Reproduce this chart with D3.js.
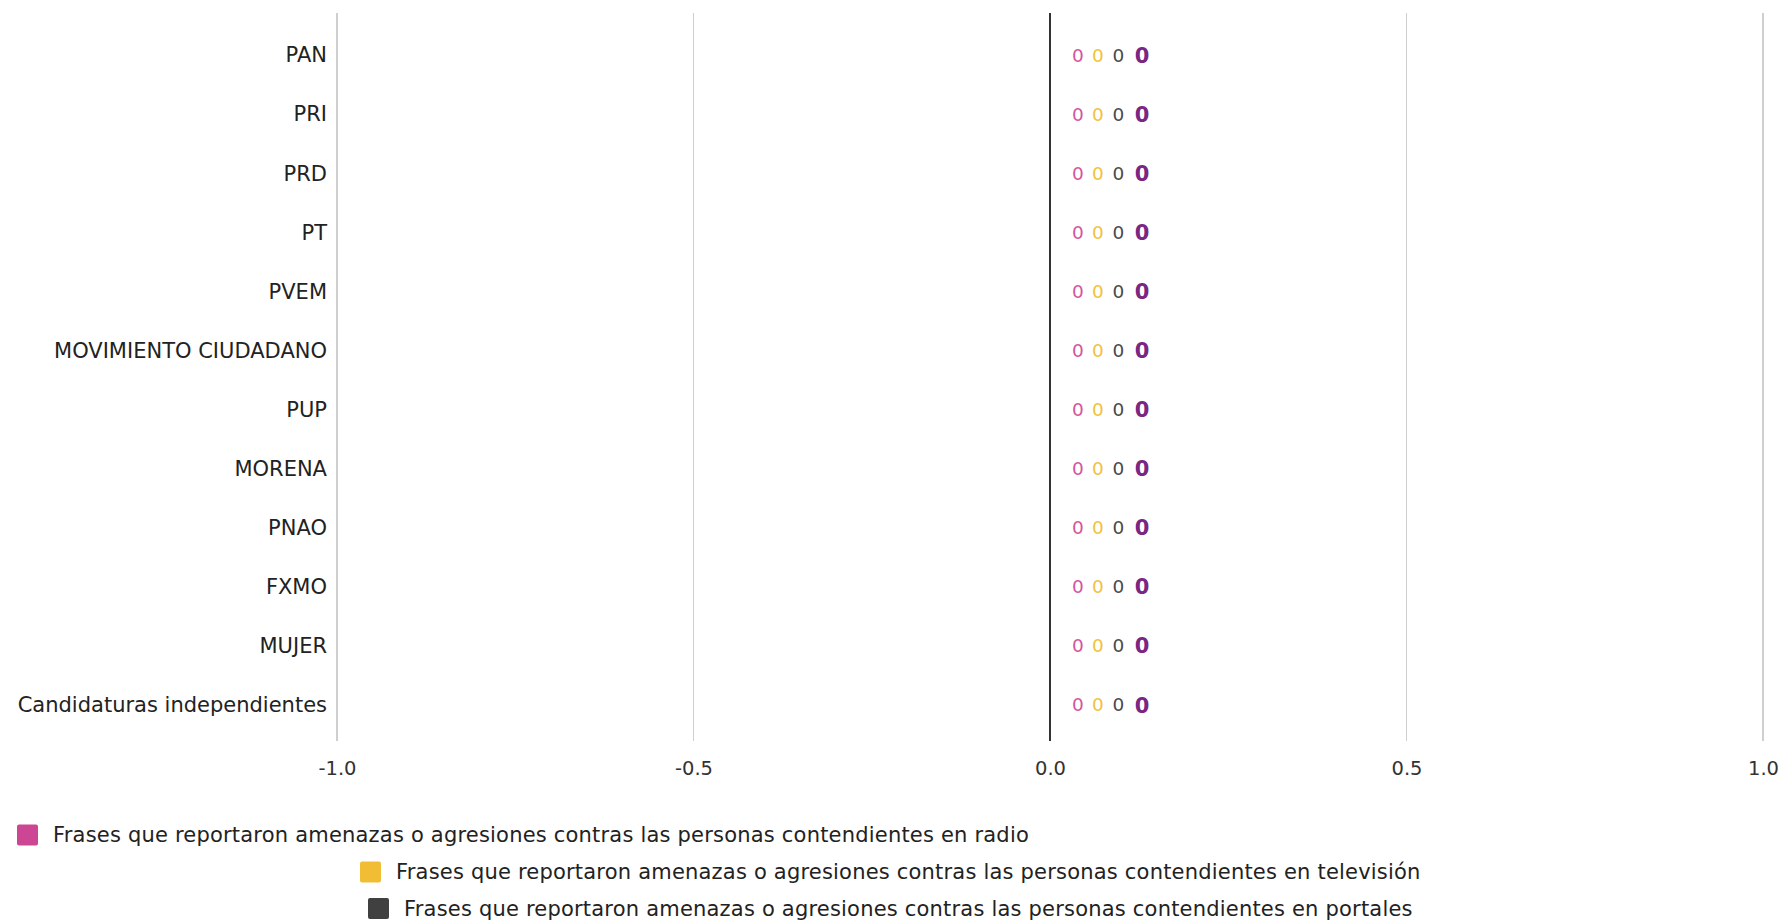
<!DOCTYPE html>
<html><head><meta charset="utf-8">
<script src="https://cdn.jsdelivr.net/npm/d3@7"></script>
<style>
body{margin:0;background:#fff;}
svg{display:block;font-family:"DejaVu Sans",sans-serif;}
</style></head>
<body><svg id="chart" width="1785" height="920"></svg>
<script>
const categories = ["PAN","PRI","PRD","PT","PVEM","MOVIMIENTO CIUDADANO","PUP","MORENA","PNAO","FXMO","MUJER","Candidaturas independientes"];
const radio     = [0,0,0,0,0,0,0,0,0,0,0,0];
const television= [0,0,0,0,0,0,0,0,0,0,0,0];
const portales  = [0,0,0,0,0,0,0,0,0,0,0,0];
const totals    = [0,0,0,0,0,0,0,0,0,0,0,0];
const xTicks = [-1.0,-0.5,0.0,0.5,1.0];
const seriesNames = [
  "Frases que reportaron amenazas o agresiones contras las personas contendientes en radio",
  "Frases que reportaron amenazas o agresiones contras las personas contendientes en televisión",
  "Frases que reportaron amenazas o agresiones contras las personas contendientes en portales"
];
const colors = ["#cd4694","#f0bd34","#404040"];
const labelColors = ["#d4569f","#f2c23e","#4a4a4a"];
const totalColor = "#7a2682";
const FONT = "DejaVu Sans, sans-serif";

const svg = d3.select("#chart");
const x = d3.scaleLinear().domain([-1,1]).range([337,1763]);
const y = d3.scaleBand().domain(categories).range([25.5,734.5]);
const gridTop = 13, gridBottom = 741;

// gridlines
svg.append("g").selectAll("line").data(xTicks).join("line")
  .attr("x1",d=>x(d)).attr("x2",d=>x(d)).attr("y1",gridTop).attr("y2",gridBottom)
  .attr("stroke",d=>d===0?"#333":"#cfcfcf").attr("stroke-width",d=>d===0?1.6:1.3)
  .attr("shape-rendering","crispEdges");

// x axis labels
const fmt = d3.format(".1f");
const xAxis = d3.axisBottom(x).tickValues(xTicks).tickFormat(d=>fmt(d).replace("\u2212","-")).tickSize(0).tickPadding(0);
const gx = svg.append("g").attr("transform",`translate(0,${gridBottom})`).call(xAxis);
gx.select(".domain").remove();
gx.selectAll("text").attr("dy",null).attr("y",34).attr("font-size",19.5).attr("fill","#333")
  .attr("font-family",FONT);

// y axis labels
const yAxis = d3.axisLeft(y).tickSize(0).tickPadding(0);
const gy = svg.append("g").attr("transform",`translate(327,0)`).call(yAxis);
gy.select(".domain").remove();
gy.selectAll("text").attr("x",0).attr("dy","0.35em").attr("font-size",21).attr("fill","#222")
  .attr("font-family",FONT);

// bars (zero-width)
const series = [radio,television,portales];
const sub = d3.scaleBand().domain([0,1,2]).range([0,y.bandwidth()]).padding(0.2);
series.forEach((vals,si)=>{
  svg.append("g").selectAll("rect").data(vals).join("rect")
    .attr("x",d=>Math.min(x(0),x(d))).attr("width",d=>Math.abs(x(d)-x(0)))
    .attr("y",(d,i)=>y(categories[i])+sub(si)).attr("height",sub.bandwidth())
    .attr("fill",colors[si]);
});

// value labels
const offs = [28,48,68.5];
series.forEach((vals,si)=>{
  svg.append("g").selectAll("text").data(vals).join("text")
    .attr("x",d=>x(d)+offs[si]).attr("y",(d,i)=>y(categories[i])+y.bandwidth()/2)
    .attr("dy","0.35em").attr("text-anchor","middle")
    .attr("font-size",18.5).attr("fill",labelColors[si]).text(d=>d);
});
svg.append("g").selectAll("text").data(totals).join("text")
  .attr("x",d=>x(d)+92).attr("y",(d,i)=>y(categories[i])+y.bandwidth()/2)
  .attr("dy","0.36em").attr("text-anchor","middle")
  .attr("font-size",21).attr("font-weight","bold").attr("fill",totalColor).text(d=>d);

// legend
const legendPos = [{x:17,y:835},{x:360,y:872},{x:368,y:908.5}];
const lg = svg.append("g").selectAll("g").data(seriesNames).join("g")
  .attr("transform",(d,i)=>`translate(${legendPos[i].x},${legendPos[i].y})`);
lg.append("rect").attr("x",0).attr("y",-10.5).attr("width",21).attr("height",21).attr("rx",2)
  .attr("fill",(d,i)=>colors[i]);
lg.append("text").attr("x",36).attr("dy","0.35em").attr("font-size",21).attr("letter-spacing",0.2)
  .attr("fill","#222").attr("font-family",FONT).text(d=>d);
</script></body></html>
